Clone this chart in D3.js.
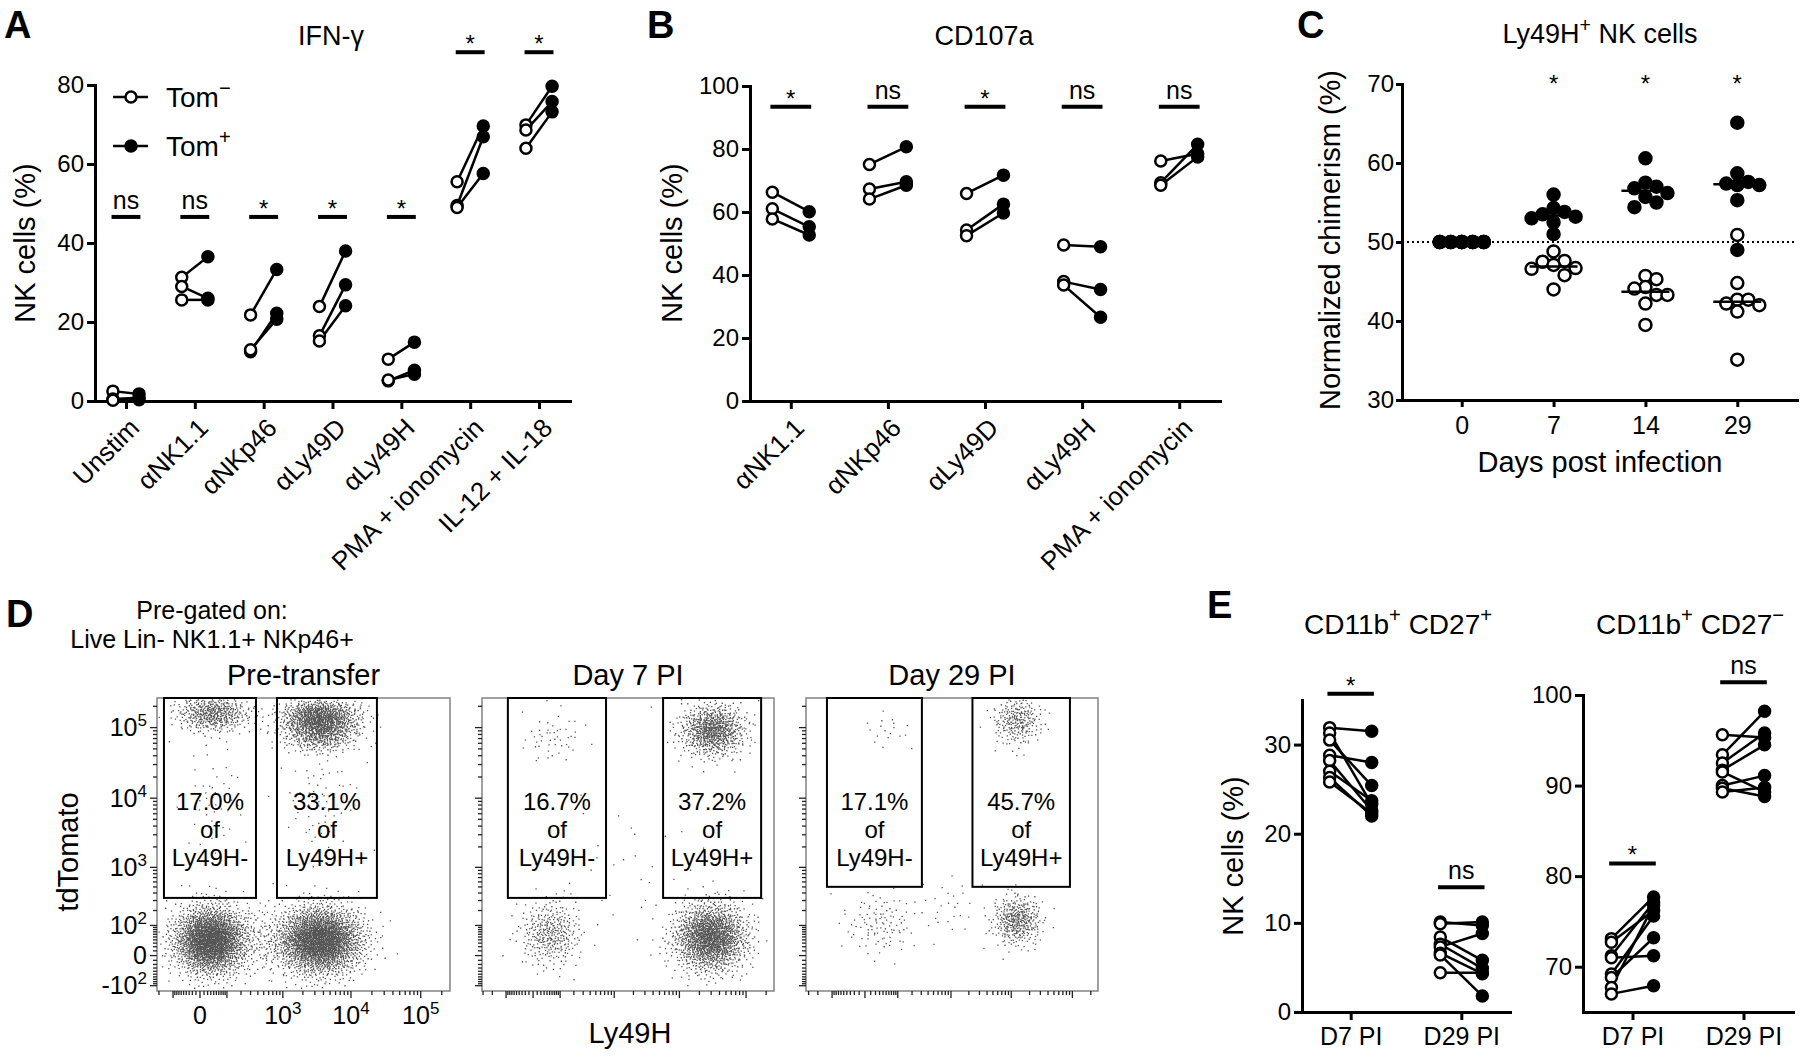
<!DOCTYPE html>
<html>
<head>
<meta charset="utf-8">
<script src="https://cdn.jsdelivr.net/npm/d3@7/dist/d3.min.js"></script>
<style>
html,body{margin:0;padding:0;background:#fff;}
svg{display:block;}
</style>
</head>
<body>
<svg id="chart" width="1800" height="1057"></svg>
<script>
// ================= DATA =================
// Panel A – IFN-γ (% of NK cells), paired Tom- / Tom+ per mouse
const ifnCategories = ["Unstim","αNK1.1","αNKp46","αLy49D","αLy49H","PMA + ionomycin","IL-12 + IL-18"];
const ifnTomNeg = [[2.5,0.5,0.2],[31.3,29.0,25.6],[21.8,12.5,13.0],[23.9,16.5,15.2],[10.6,5.1,5.3],[55.5,49.5,49.0],[69.9,68.6,64.0]];
const ifnTomPos = [[1.8,0.8,0.3],[36.5,26.0,25.6],[33.3,22.2,20.7],[38.0,29.4,24.1],[14.9,7.8,6.8],[69.6,66.9,57.6],[79.7,75.8,73.2]];
const ifnSig = ["ns","ns","*","*","*","*","*"];
const ifnSigLevel = [46.6,46.6,46.6,46.6,46.6,88.3,88.3];
const ifnTicks = [0,20,40,60,80];

// Panel B – CD107a
const cdCategories = ["αNK1.1","αNKp46","αLy49D","αLy49H","PMA + ionomycin"];
const cdTomNeg = [[66.3,61.0,57.8],[75.1,67.3,64.1],[65.9,54.3,52.5],[49.5,37.9,36.8],[76.2,69.3,68.5]];
const cdTomPos = [[60.1,55.3,52.7],[80.7,69.6,68.5],[71.7,62.5,59.7],[49.0,35.4,26.6],[78.5,81.5,77.5]];
const cdSig = ["*","ns","*","ns","ns"];
const cdSigLevel = [93.4,93.4,93.4,93.4,93.4];
const cdTicks = [0,20,40,60,80,100];

// Panel C – normalized chimerism of Ly49H+ NK cells
const chiDays = ["0","7","14","29"];
const chiTomNeg = [[50,50,50,50,50,50,50,50],[48.8,47.6,47.5,47.1,46.7,46.6,45.8,44.0],[45.7,45.3,44.3,44.1,43.3,43.3,42.2,39.5],[50.9,44.8,42.7,42.7,42.2,42.0,41.2,35.1]];
const chiTomPos = [[50,50,50,50,50,50,50,50],[56.0,54.3,53.8,53.5,53.2,53.0,52.5,51.0],[60.6,57.5,57.0,56.8,56.2,55.7,55.0,54.4],[65.1,58.7,57.6,57.4,57.2,57.2,55.3,49.0]];
const chiSig = ["","*","*","*"];
const chiSigLevel = [69,69,69,69];
const chiTicks = [30,40,50,60,70];
const chiReference = 50;

// Panel D – flow cytometry (Ly49H vs tdTomato)
const flowTitles = ["Pre-transfer","Day 7 PI","Day 29 PI"];
const flowGateNegLabel = ["17.0%","16.7%","17.1%"];
const flowGatePosLabel = ["33.1%","37.2%","45.7%"];
const flowGateNeg = [[-159,372],[-90,738],[-130,308]];          // Ly49H- gate (Ly49H range)
const flowGatePos = [[812,23600],[5670,168200],[2296,91200]];   // Ly49H+ gate (Ly49H range)
const flowGateTdMin = [332,332,502];                              // lower tdTomato bound of gates
// event clusters:
// [plot, Ly49H centre, tdTomato centre, spread Ly49H, spread tdTomato (log units), events]
const flowClusters = [
  [0, 27, 40, 0.6, 0.55, 2200],
  [0, 3500, 40, 0.7, 0.55, 2400],
  [0, 37, 161800, 0.6, 0.3, 500],
  [0, 3500, 142000, 0.65, 0.3, 900],
  [0, 3500, 84000, 0.6, 0.3, 500],
  [0, 525, 40, 0.8, 0.6, 150],
  [0, 37, 9500, 0.5, 1.0, 50],
  [0, 3500, 9500, 0.6, 1.0, 70],
  [1, 51, 65, 0.52, 0.52, 350],
  [1, 28900, 50, 0.62, 0.55, 1600],
  [1, 31000, 93400, 0.55, 0.42, 800],
  [1, 64, 74000, 0.55, 0.4, 50],
  [1, 1500, 1000, 1.5, 1.2, 30],
  [2, 31, 113, 0.7, 0.5, 110],
  [2, 12300, 131, 0.45, 0.4, 380],
  [2, 12300, 129600, 0.45, 0.4, 260],
  [2, 53, 93400, 0.5, 0.3, 18],
  [2, 963, 249, 0.6, 0.5, 25]
];
const flowYLabels = [100000,10000,1000,100,0,-100];
const flowXLabels = [0,1000,10000,100000];

// Panel E – NK subsets
const dpCategories = ["D7 PI","D29 PI"];
const dp27PosTomNeg = [[31.9,31.3,30.5,28.8,28.2,27.0,26.3,25.8],[10.1,9.9,8.4,7.6,7.3,6.6,6.4,4.4]];
const dp27PosTomPos = [[31.5,23.3,25.4,28.0,22.6,23.7,22.0,22.3],[9.7,10.1,5.8,4.9,8.8,4.3,1.8,4.4]];
const dp27PosSig = ["*","ns"];
const dp27PosSigLevel = [35.7,14.0];
const dp27PosTicks = [0,10,20,30];
const dp27NegTomNeg = [[73.1,72.7,71.2,71.0,69.2,68.8,67.7,67.0],[95.6,93.4,92.5,91.7,91.5,90.0,89.7,89.3]];
const dp27NegTomPos = [[77.7,76.2,77.1,71.2,75.6,73.2,76.8,67.9],[95.3,98.2,95.8,94.5,89.3,91.1,88.8,89.8]];
const dp27NegSig = ["*","ns"];
const dp27NegSigLevel = [81.4,101.4];
const dp27NegTicks = [70,80,90,100];

// ================= DRAWING =================
const FONT = '"Liberation Sans", Arial, Helvetica, sans-serif';
const TICK_FS = 24, ROT_FS = 26, TITLE_FS = 27, AXT_FS = 29;
const svg = d3.select("#chart").attr("font-family", FONT);
svg.append("rect").attr("width",1800).attr("height",1057).attr("fill","#fff");

function rich(g, x, y, parts, size, anchor, extra){
  const t = g.append("text").attr("x",x).attr("y",y).attr("font-size",size)
    .attr("text-anchor",anchor||"start").attr("fill","#000");
  if(extra) extra(t);
  let prevSup=false;
  parts.forEach(p=>{
    const isSup = Array.isArray(p);
    const s = isSup ? p[0] : p;
    const ts = t.append("tspan").text(s);
    if(isSup){ ts.attr("font-size",size*0.72).attr("dy",-size*0.42); prevSup=true; }
    else if(prevSup){ ts.attr("dy",size*0.42); prevSup=false; }
  });
  return t;
}
function label(g,x,y,s,size,anchor,weight){
  return g.append("text").attr("x",x).attr("y",y).attr("font-size",size)
    .attr("text-anchor",anchor||"start").attr("font-weight",weight||"normal").attr("fill","#000").text(s);
}
function styleAxis(sel, fs, w){
  sel.attr("font-family",FONT).attr("font-size",fs);
  sel.select(".domain").attr("stroke","#000").attr("stroke-width",w).attr("stroke-linecap","square");
  sel.selectAll(".tick line").attr("stroke","#000").attr("stroke-width",w);
  sel.selectAll(".tick text").attr("fill","#000");
}

function pairedPanel(c){
  const g = svg.append("g");
  const x = d3.scalePoint().domain(c.cats).range([c.x0,c.x1]).padding(c.padding);
  const y = d3.scaleLinear().domain(c.domain).range([c.yBottom,c.yTop]);
  const off = x.step()*0.19;
  const ya = g.append("g").attr("transform",`translate(${c.x0},0)`)
    .call(d3.axisLeft(y).tickValues(c.ticks).tickSize(8).tickSizeOuter(0).tickPadding(3));
  styleAxis(ya,TICK_FS,3);
  const xa = g.append("g").attr("transform",`translate(0,${c.yBottom})`)
    .call(d3.axisBottom(x).tickSize(8).tickSizeOuter(0).tickPadding(c.rotate?0:7));
  styleAxis(xa,c.rotate?ROT_FS:25,3);
  if(c.rotate){
    xa.selectAll(".tick text").attr("x",0).attr("y",0).attr("dy","0.35em")
      .attr("text-anchor","end").attr("transform","translate(8,22) rotate(-45)");
  }
  // connecting lines
  c.cats.forEach((cat,i)=>{
    c.neg[i].forEach((v,j)=>{
      g.append("line").attr("x1",x(cat)-off).attr("y1",y(v))
        .attr("x2",x(cat)+off).attr("y2",y(c.pos[i][j]))
        .attr("stroke","#000").attr("stroke-width",2.5);
    });
  });
  c.cats.forEach((cat,i)=>{
    c.neg[i].forEach(v=>{
      g.append("circle").attr("cx",x(cat)-off).attr("cy",y(v)).attr("r",c.r)
        .attr("fill","#fff").attr("stroke","#000").attr("stroke-width",2.5);
    });
    c.pos[i].forEach(v=>{
      g.append("circle").attr("cx",x(cat)+off).attr("cy",y(v)).attr("r",c.r)
        .attr("fill","#000").attr("stroke","#000").attr("stroke-width",2.5);
    });
  });
  // significance
  const hw = x.step()*0.21;
  c.cats.forEach((cat,i)=>{
    const yy = y(c.sigLevel[i]);
    g.append("line").attr("x1",x(cat)-hw).attr("x2",x(cat)+hw).attr("y1",yy).attr("y2",yy)
      .attr("stroke","#000").attr("stroke-width",4);
    if(c.sig[i]==="*") label(g,x(cat),yy,"*",24,"middle");
    else label(g,x(cat),yy-8,c.sig[i],25,"middle");
  });
  return {g,x,y};
}

// ---------- Panel A ----------
pairedPanel({x0:95,x1:570,yTop:85,yBottom:401,domain:[0,80],ticks:ifnTicks,
  cats:ifnCategories,neg:ifnTomNeg,pos:ifnTomPos,sig:ifnSig,sigLevel:ifnSigLevel,padding:0.45,rotate:true,r:5.5});
label(svg,4,38,"A",38,"start","bold");
label(svg,331,45,"IFN-γ",TITLE_FS,"middle");
label(svg,0,0,"NK cells (%)",AXT_FS,"middle").attr("transform","translate(35,243) rotate(-90)");
// legend
[["−",97,"#fff"],["+",146,"#000"]].forEach(([s,ly,f])=>{
  svg.append("line").attr("x1",113).attr("x2",148).attr("y1",ly).attr("y2",ly).attr("stroke","#000").attr("stroke-width",2.5);
  svg.append("circle").attr("cx",131).attr("cy",ly).attr("r",5.5).attr("fill",f).attr("stroke","#000").attr("stroke-width",2.5);
  rich(svg,166,ly+10,["Tom",[s]],28,"start");
});

// ---------- Panel B ----------
pairedPanel({x0:750,x1:1220,yTop:86,yBottom:401,domain:[0,100],ticks:cdTicks,
  cats:cdCategories,neg:cdTomNeg,pos:cdTomPos,sig:cdSig,sigLevel:cdSigLevel,padding:0.42,rotate:true,r:5.5});
label(svg,647,38,"B",38,"start","bold");
label(svg,984,45,"CD107a",TITLE_FS,"middle");
label(svg,0,0,"NK cells (%)",AXT_FS,"middle").attr("transform","translate(682,243) rotate(-90)");

// ---------- Panel C ----------
(function(){
  const x0=1402,x1=1797,yTop=84,yBottom=400;
  const g = svg.append("g");
  const x = d3.scalePoint().domain(chiDays).range([x0,x1]).padding(0.65);
  const y = d3.scaleLinear().domain([30,70]).range([yBottom,yTop]);
  const ya = g.append("g").attr("transform",`translate(${x0},0)`)
    .call(d3.axisLeft(y).tickValues(chiTicks).tickSize(6).tickSizeOuter(0).tickPadding(2));
  styleAxis(ya,TICK_FS,3);
  const xa = g.append("g").attr("transform",`translate(0,${yBottom})`)
    .call(d3.axisBottom(x).tickSize(7).tickSizeOuter(0).tickPadding(9));
  styleAxis(xa,25,3);
  g.append("line").attr("x1",x0).attr("x2",x1).attr("y1",y(chiReference)).attr("y2",y(chiReference))
    .attr("stroke","#000").attr("stroke-width",2.2).attr("stroke-dasharray","2,3");
  const minD=11, slots=2, R=6;
  chiDays.forEach((d,i)=>{
    const pts=[];
    chiTomPos[i].forEach(v=>pts.push({v,s:1}));
    chiTomNeg[i].forEach(v=>pts.push({v,s:0}));
    const placed=[];
    pts.forEach(p=>{
      const py=y(p.v);
      const cands=[0]; for(let k=1;k<=slots;k++){cands.push(k*minD,-k*minD);}
      let best=0,bestScore=Infinity;
      for(const dx of cands){
        let ov=0;
        placed.forEach(q=>{const dd=Math.hypot(q.dx-dx,q.py-py); if(dd<minD) ov+=minD-dd;});
        if(ov===0){best=dx;bestScore=0;break;}
        if(ov<bestScore){bestScore=ov;best=dx;}
      }
      placed.push({dx:best,py,s:p.s});
    });
    placed.filter(p=>p.s===0).forEach(p=>{
      g.append("circle").attr("cx",x(d)+p.dx).attr("cy",p.py).attr("r",R)
        .attr("fill","#fff").attr("stroke","#000").attr("stroke-width",2.5);
    });
    placed.filter(p=>p.s===1).forEach(p=>{
      g.append("circle").attr("cx",x(d)+p.dx).attr("cy",p.py).attr("r",R)
        .attr("fill","#000").attr("stroke","#000").attr("stroke-width",2.5);
    });
    [chiTomNeg[i],chiTomPos[i]].forEach(arr=>{
      const m=d3.median(arr);
      g.append("line").attr("x1",x(d)-24).attr("x2",x(d)+24).attr("y1",y(m)).attr("y2",y(m))
        .attr("stroke","#000").attr("stroke-width",2.5);
    });
    if(chiSig[i]) label(g,x(d),y(chiSigLevel[i]),chiSig[i],24,"middle");
  });
  label(svg,1297,38,"C",38,"start","bold");
  rich(svg,1600,43,["Ly49H",["+"]," NK cells"],TITLE_FS,"middle");
  label(svg,0,0,"Normalized chimerism (%)",AXT_FS,"middle").attr("transform","translate(1340,240) rotate(-90)");
  label(svg,1600,472,"Days post infection",AXT_FS,"middle");
})();

// ---------- Panel D ----------
(function(){
  const TOP=698, BOTTOM=991;
  const boxes=[[157,450],[482,774],[806,1098]];
  const xConst=[70,65,41], xMin=[-218,-313,-335];
  const yConst=60, yDom=[-130,262144];
  const sl=(v,c)=>Math.sign(v)*Math.log1p(Math.abs(v)/c);
  const slInv=(t,c)=>Math.sign(t)*c*Math.expm1(Math.abs(t));
  const halton=(i,b)=>{let f=1,r=0;while(i>0){f/=b;r+=f*(i%b);i=Math.floor(i/b);}return r;};
  function tickVals(dom){
    const t=[{v:0,major:true}];
    for(let e=1;e<=5;e++) for(let m=1;m<=9;m++){
      const v=m*Math.pow(10,e);
      if(v<=dom[1]) t.push({v,major:m===1&&e>=2});
      if(-v>=dom[0]) t.push({v:-v,major:m===1&&e>=2});
    }
    return t;
  }
  function powLabel(g,x,y,v,anchor,dyMain){
    const t=g.append("text").attr("x",x).attr("y",y).attr("font-size",25).attr("text-anchor",anchor).attr("fill","#000").attr("dy",dyMain);
    if(v===0){t.text("0");return;}
    const e=Math.round(Math.log10(Math.abs(v)));
    t.append("tspan").text((v<0?"-":"")+"10");
    t.append("tspan").text(String(e)).attr("font-size",17).attr("dy",-10);
  }
  flowTitles.forEach((title,p)=>{
    const [bx0,bx1]=boxes[p];
    const xs=d3.scaleSymlog().constant(xConst[p]).domain([xMin[p],262144]).range([bx0,bx1]);
    const ys=d3.scaleSymlog().constant(yConst).domain(yDom).range([BOTTOM,TOP]);
    const g=svg.append("g");
    // events
    let path="";
    flowClusters.forEach((cl,ci)=>{
      if(cl[0]!==p) return;
      const tx=sl(cl[1],xConst[p]), ty=sl(cl[2],yConst);
      for(let i=0;i<cl[5];i++){
        const idx=i+1+ci*397;
        const u1=halton(idx,2), u2=halton(idx,3);
        const rr=Math.sqrt(-2*Math.log(Math.max(u1,1e-6)));
        const g1=rr*Math.cos(2*Math.PI*u2), g2=rr*Math.sin(2*Math.PI*u2);
        const px=xs(slInv(tx+cl[3]*g1,xConst[p]));
        const py=ys(slInv(ty+cl[4]*g2,yConst));
        if(px>bx0+1 && px<bx1-2 && py>TOP+1 && py<BOTTOM-2)
          path+=`M${px.toFixed(1)},${py.toFixed(1)}h1.3v1.3h-1.3z`;
      }
    });
    g.append("path").attr("d",path).attr("fill","#555");
    // frame
    g.append("rect").attr("x",bx0).attr("y",TOP).attr("width",bx1-bx0).attr("height",BOTTOM-TOP)
      .attr("fill","none").attr("stroke","#8a8a8a").attr("stroke-width",1.6);
    // gates
    const gy=ys(flowGateTdMin[p]);
    [[flowGateNeg[p],flowGateNegLabel[p],"Ly49H-"],[flowGatePos[p],flowGatePosLabel[p],"Ly49H+"]].forEach(([gr,pct,nm])=>{
      const gx0=xs(gr[0]), gx1=xs(gr[1]);
      g.append("rect").attr("x",gx0).attr("y",TOP).attr("width",gx1-gx0).attr("height",gy-TOP)
        .attr("fill","none").attr("stroke","#000").attr("stroke-width",2);
      const cx=(gx0+gx1)/2;
      label(g,cx,TOP+112,pct,24,"middle");
      label(g,cx,TOP+140,"of",24,"middle");
      label(g,cx,TOP+168,nm,24,"middle");
    });
    // ticks
    tickVals(yDom).forEach(t=>{
      const yy=ys(t.v);
      g.append("line").attr("x1",bx0).attr("x2",bx0-(t.major?7:4)).attr("y1",yy).attr("y2",yy)
        .attr("stroke","#222").attr("stroke-width",1.3);
    });
    tickVals(xs.domain()).forEach(t=>{
      const xx=xs(t.v);
      g.append("line").attr("x1",xx).attr("x2",xx).attr("y1",BOTTOM).attr("y2",BOTTOM+(t.major?7:4))
        .attr("stroke","#222").attr("stroke-width",1.3);
    });
    if(p===0){
      flowYLabels.forEach(v=>powLabel(g,bx0-10,ys(v),v,"end","0.35em"));
      flowXLabels.forEach(v=>powLabel(g,xs(v),BOTTOM+33,v,"middle","0"));
    }
    label(g,(bx0+bx1)/2,685,title,29,"middle");
  });
  label(svg,6,627,"D",38,"start","bold");
  label(svg,212,619,"Pre-gated on:",25,"middle");
  label(svg,212,648,"Live Lin- NK1.1+ NKp46+",25,"middle");
  label(svg,0,0,"tdTomato",AXT_FS,"middle").attr("transform","translate(78,852) rotate(-90)");
  label(svg,630,1043,"Ly49H",AXT_FS,"middle");
})();

// ---------- Panel E ----------
pairedPanel({x0:1302,x1:1510,yTop:700,yBottom:1012,domain:[0,35],ticks:dp27PosTicks,
  cats:dpCategories,neg:dp27PosTomNeg,pos:dp27PosTomPos,sig:dp27PosSig,sigLevel:dp27PosSigLevel,padding:0.44,rotate:false,r:5.5});
pairedPanel({x0:1583,x1:1793,yTop:695,yBottom:1012,domain:[65,100],ticks:dp27NegTicks,
  cats:dpCategories,neg:dp27NegTomNeg,pos:dp27NegTomPos,sig:dp27NegSig,sigLevel:dp27NegSigLevel,padding:0.446,rotate:false,r:5.5});
label(svg,1207,618,"E",38,"start","bold");
rich(svg,1398,634,["CD11b",["+"]," CD27",["+"]],28,"middle");
rich(svg,1690,634,["CD11b",["+"]," CD27",["−"]],28,"middle");
label(svg,0,0,"NK cells (%)",AXT_FS,"middle").attr("transform","translate(1243,856) rotate(-90)");
</script>
</body>
</html>
